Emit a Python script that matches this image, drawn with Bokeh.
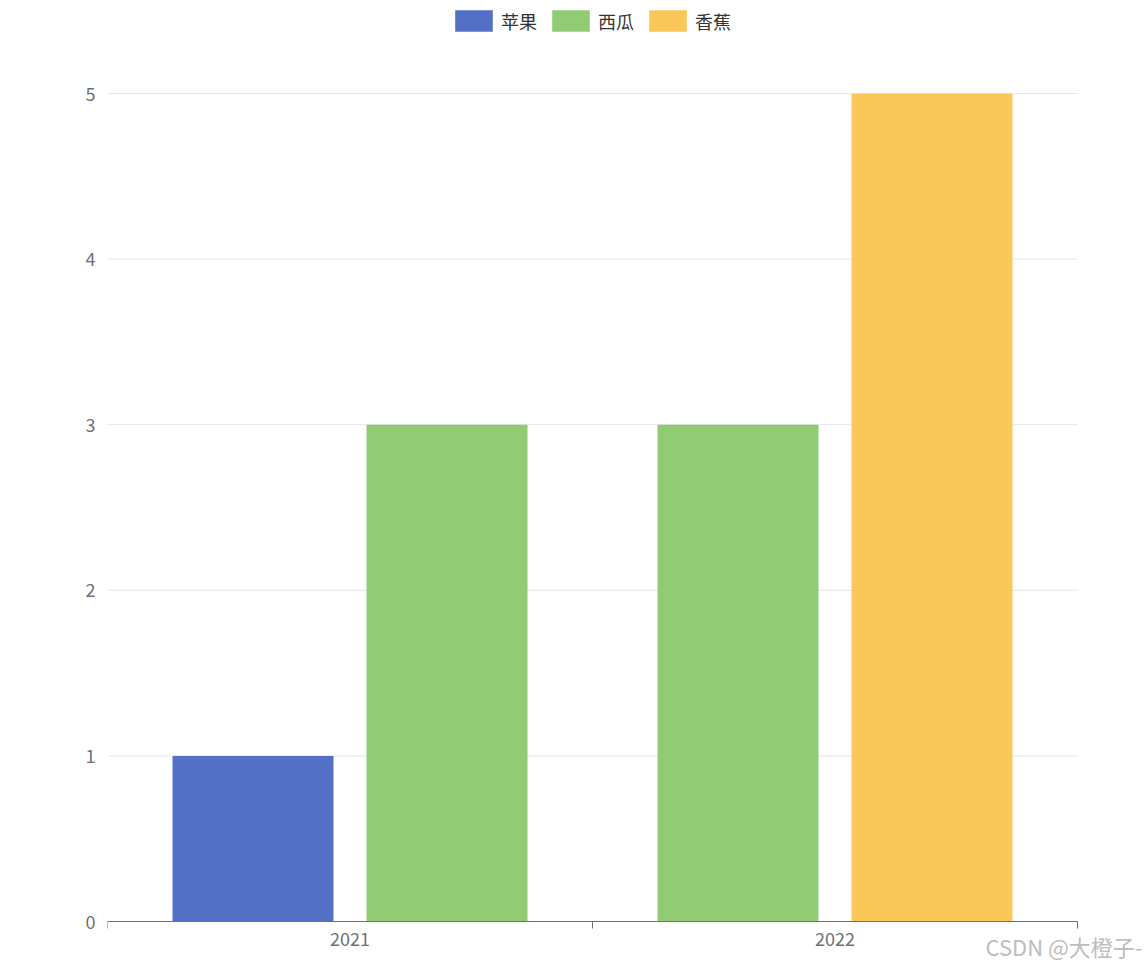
from bokeh.plotting import figure
from bokeh.models import (ColumnDataSource, FixedTicker, Range1d, Legend, LegendItem, Label)
from bokeh.embed import file_html
from bokeh.resources import INLINE

# ---- data ----
categories = ["2021", "2022"]
series_names = ["苹果", "西瓜", "香蕉"]
apple = [1, None]
watermelon = [3, 3]
banana = [None, 5]
series_values = [apple, watermelon, banana]
series_colors = ["#5470C6", "#91CC75", "#FAC858"]
y_ticks = [0, 1, 2, 3, 4, 5]
watermark = "CSDN @大橙子-"

FONT = "Noto Sans CJK SC"
AXIS_COLOR = "#6E7079"

W, H = 1144, 966
LEFT = 107          # plot area left (px)
PLOT_RIGHT = 1077   # value-axis end (px)
ZERO_Y = 921        # y=0 (px from top)
TOP_Y = 93          # y=5 (px from top)
n_cat = len(categories)
ymax = max(y_ticks)
px_per_x = (PLOT_RIGHT - LEFT) / n_cat
px_per_y = (ZERO_Y - TOP_Y) / ymax

x_end = (W - LEFT) / px_per_x
y_start = -(H - ZERO_Y) / px_per_y
y_end = ZERO_Y / px_per_y

p = figure(width=W, height=H, output_backend="svg", toolbar_location=None,
           x_range=Range1d(0, x_end), y_range=Range1d(y_start, y_end),
           min_border_left=LEFT, min_border_right=0, min_border_top=0, min_border_bottom=0)
p.outline_line_color = None
p.background_fill_color = "white"
p.border_fill_color = "white"
p.xgrid.grid_line_color = None
p.ygrid.grid_line_color = None

# horizontal grid lines across the category span
p.segment(x0=[0] * len(y_ticks), x1=[n_cat] * len(y_ticks), y0=y_ticks, y1=y_ticks,
          line_color="#E0E6F1", line_width=1)

# slot positions: present series in each category are spread across the band
bar_w = 0.332
slot_step = 0.4
positions = {}
for ci, cat in enumerate(categories):
    present = [si for si, vals in enumerate(series_values) if vals[ci] is not None]
    n = len(present)
    for k, si in enumerate(present):
        positions[(si, ci)] = ci + 0.5 + (k - (n - 1) / 2) * slot_step

legend_items = []
for si, (name, vals, color) in enumerate(zip(series_names, series_values, series_colors)):
    xs, tops = [], []
    for ci, v in enumerate(vals):
        if v is not None:
            xs.append(positions[(si, ci)])
            tops.append(v)
    src = ColumnDataSource(dict(x=xs, top=tops))
    r = p.vbar(x="x", top="top", bottom=0, width=bar_w, source=src,
               fill_color=color, line_color=None)
    legend_items.append(LegendItem(label=name, renderers=[r]))

# y axis
p.yaxis.ticker = FixedTicker(ticks=y_ticks)
p.yaxis.axis_line_color = None
p.yaxis.major_tick_line_color = None
p.yaxis.major_tick_out = 0
p.yaxis.major_tick_in = 0
p.yaxis.minor_tick_line_color = None
p.yaxis.major_label_text_color = AXIS_COLOR
p.yaxis.major_label_text_font = FONT
p.yaxis.major_label_text_font_size = "18px"
p.yaxis.major_label_standoff = 12

# x axis (category axis at y = 0)
p.xaxis.fixed_location = 0
p.xaxis.bounds = (0, n_cat)
p.xaxis.ticker = FixedTicker(ticks=[i + 0.5 for i in range(n_cat)],
                             minor_ticks=list(range(n_cat + 1)))
p.xaxis.major_label_overrides = {i + 0.5: c for i, c in enumerate(categories)}
p.xaxis.axis_line_color = AXIS_COLOR
p.xaxis.axis_line_width = 1
p.xaxis.major_tick_line_color = None
p.xaxis.major_tick_out = 0
p.xaxis.major_tick_in = 0
p.xaxis.minor_tick_line_color = AXIS_COLOR
p.xaxis.minor_tick_out = 7
p.xaxis.minor_tick_in = 0
p.xaxis.major_label_text_color = AXIS_COLOR
p.xaxis.major_label_text_font = FONT
p.xaxis.major_label_text_font_size = "18px"
p.xaxis.major_label_standoff = 3

legend = Legend(items=legend_items, orientation="horizontal", location=(343, H - 34))
legend.glyph_width = 47
legend.glyph_height = 27
legend.label_standoff = 4
legend.spacing = 10
legend.padding = 2
legend.margin = 0
legend.border_line_color = None
legend.background_fill_alpha = 0
legend.label_text_font = FONT
legend.label_text_font_size = "18px"
legend.label_text_color = "#333333"
legend.label_height = 27
p.add_layout(legend, "center")

wm = Label(x=(985 - LEFT) / px_per_x, y=-(945 - ZERO_Y) / px_per_y, text=watermark,
           text_font=FONT, text_font_size="22px",
           text_color="#BDBDBD", text_baseline="middle", text_align="left")
p.add_layout(wm)

open("out.html", "w").write(file_html(p, INLINE))
